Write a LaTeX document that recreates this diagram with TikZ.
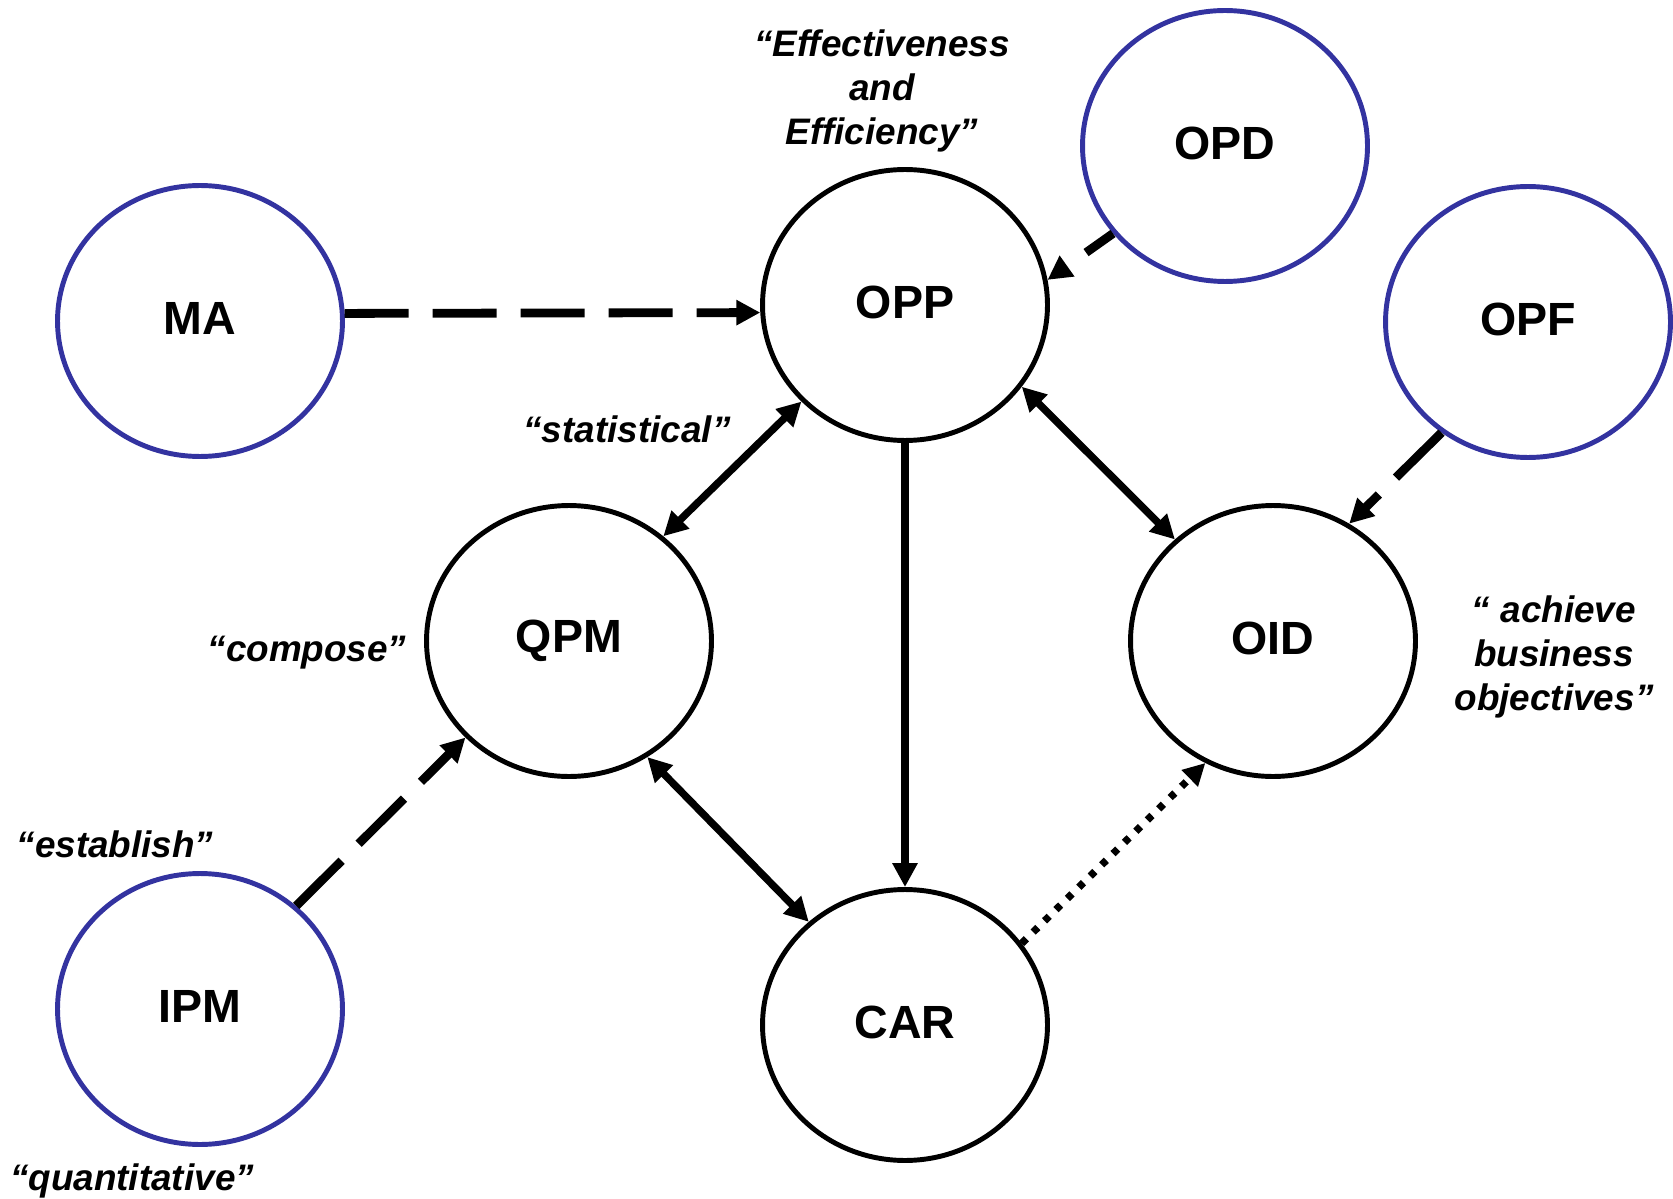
\documentclass[tikz,border=0pt]{standalone}
\usepackage{fontspec}
\setmainfont{Liberation Sans}
\usetikzlibrary{arrows.meta,shapes.geometric}
\definecolor{procblue}{RGB}{51,51,160}

\begin{document}
\begin{tikzpicture}[x=0.02cm,y=-0.02cm,
  proc/.style={ellipse,draw,line width=2.8pt,minimum width=5.7cm,minimum height=5.42cm,inner sep=0pt,font=\fontsize{26.5}{30}\selectfont\bfseries},
  note/.style={align=center,font=\fontsize{21}{25}\selectfont\bfseries\itshape},
  flow/.style={line width=4.2pt,-{Triangle[length=0.48cm,width=0.48cm]}},
  twoway/.style={line width=4.2pt,{Triangle[length=0.48cm,width=0.48cm]}-{Triangle[length=0.48cm,width=0.48cm]}},
  dflow/.style={line width=5pt,dash pattern=on 1.28cm off 0.48cm,-{Triangle[length=0.48cm,width=0.48cm]}},
  dotflow/.style={line width=4.2pt,dash pattern=on 0.13cm off 0.19cm,-{Triangle[length=0.44cm,width=0.44cm]}}]
\useasboundingbox (0,0) rectangle (1673,1199);
\foreach \n/\x/\y/\c in {MA/200/321/procblue,OPD/1225/146/procblue,OPF/1528/322/procblue,IPM/200/1009/procblue,OPP/905/305/black,QPM/569/641/black,OID/1273/641/black,CAR/905/1025/black}
  {\node[proc,draw=\c] (\n) at (\x,\y) {\raisebox{3pt}{\n}};}
\draw[dflow] (MA.3) -- (OPP.183);
\draw[dflow,dash phase=0.62cm] (OPD.218) -- (OPP.10);
\draw[dflow] (OPF.232) -- (OID.57);
\draw[dflow] (IPM.47) -- (QPM.223);
\draw[twoway] (QPM.48) -- (OPP.223);
\draw[twoway] (OPP.325) -- (OID.134);
\draw[twoway] (QPM.304) -- (CAR.133);
\draw[flow] (OPP.south) -- (CAR.north);
\draw[dotflow] (CAR.35) -- (OID.241);
\node[note] (effnote) at (882,91) {“Effectiveness\\and\\Efficiency”};
\node[note] (statnote) at (627,429) {“statistical”};
\node[note] (compnote) at (307,653) {“compose”};
\node[note] (estnote) at (115,844) {“establish”};
\node[note] (quantnote) at (132,1181) {“quantitative”};
\node[note] (bizrnote) at (1554,657) {“ achieve\\business\\objectives”};
\end{tikzpicture}
\end{document}
